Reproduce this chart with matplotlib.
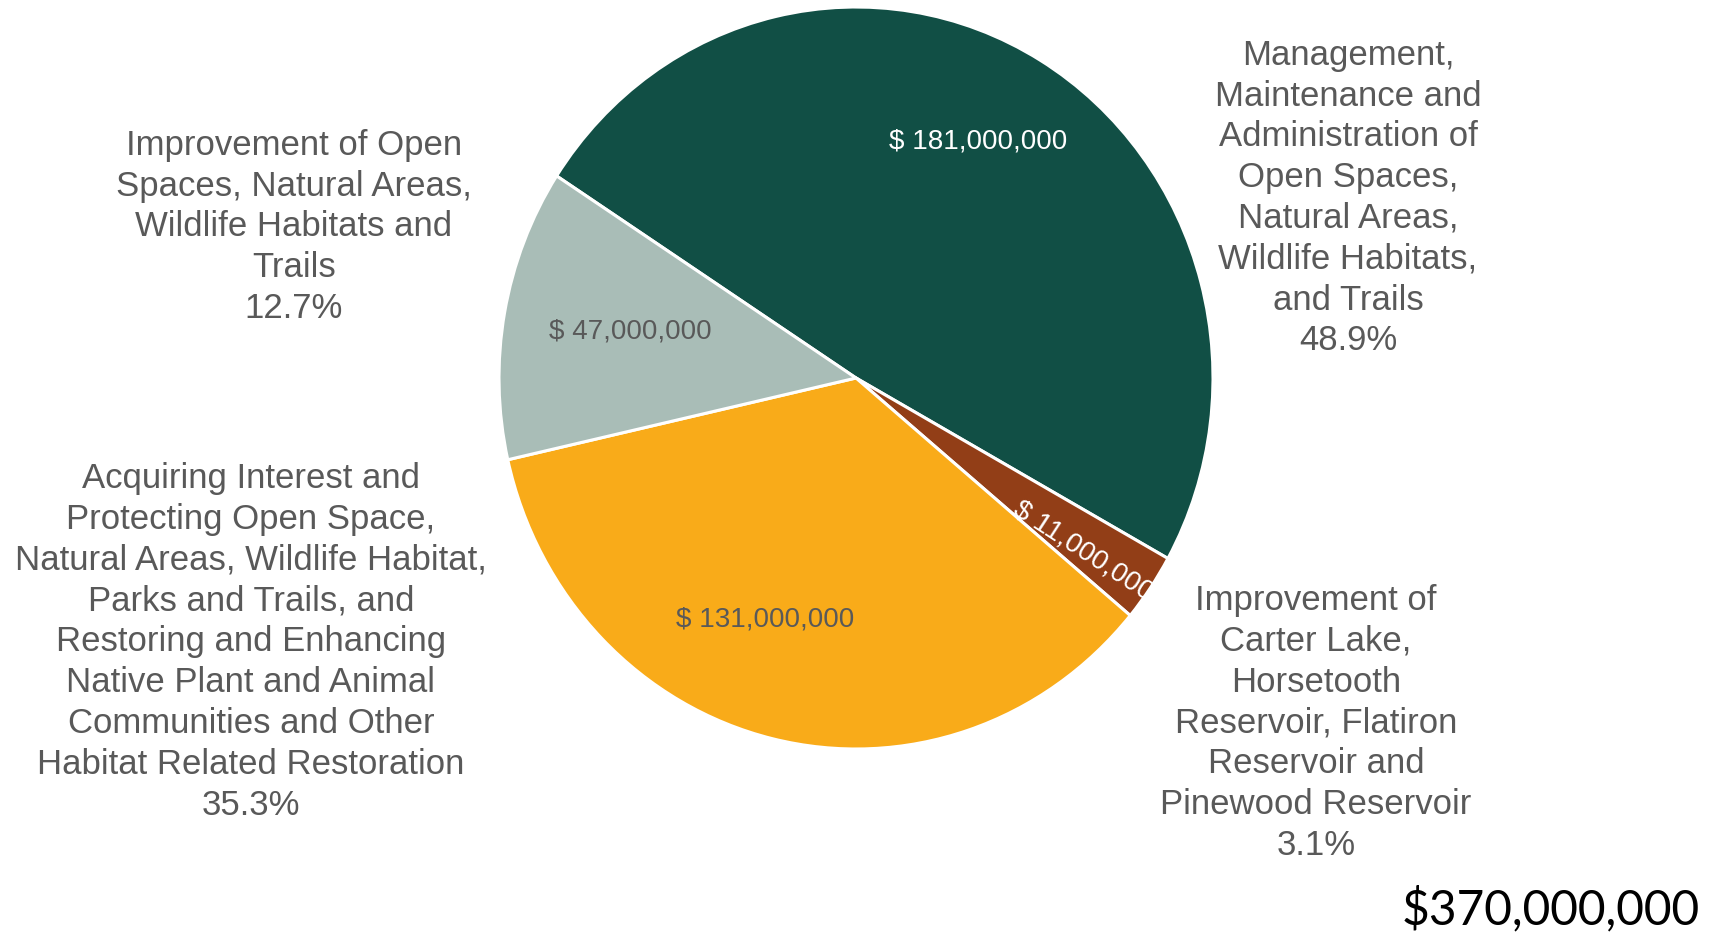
import matplotlib.pyplot as plt

# budget split by use
categories = [
    "Management,\nMaintenance and\nAdministration of\nOpen Spaces,\nNatural Areas,\nWildlife Habitats,\nand Trails",
    "Improvement of\nCarter Lake,\nHorsetooth\nReservoir, Flatiron\nReservoir and\nPinewood Reservoir",
    "Acquiring Interest and\nProtecting Open Space,\nNatural Areas, Wildlife Habitat,\nParks and Trails, and\nRestoring and Enhancing\nNative Plant and Animal\nCommunities and Other\nHabitat Related Restoration",
    "Improvement of Open\nSpaces, Natural Areas,\nWildlife Habitats and\nTrails",
]
amounts = [181_000_000, 11_000_000, 131_000_000, 47_000_000]
percents = ["48.9%", "3.1%", "35.3%", "12.7%"]
total_label = "$370,000,000"

colors = ["#114f45", "#923e17", "#f9ab19", "#a9bdb7"]
value_colors = ["white", "white", "#595959", "#595959"]

plt.rcParams['font.family'] = ['Liberation Sans', 'DejaVu Sans']

W, H = 1709, 941
fig = plt.figure(figsize=(W / 100, H / 100), dpi=100)

# pie sits in a slightly taller-than-wide box
px0, px1, py0, py1 = 499, 1213, 7, 749
ax = fig.add_axes([px0 / W, 1 - py1 / H, (px1 - px0) / W, (py1 - py0) / H])
wedges, _ = ax.pie(amounts, colors=colors, startangle=147, counterclock=False,
                   wedgeprops=dict(edgecolor='white', linewidth=2.2))
ax.set_aspect('auto')
ax.set_xlim(-1, 1)
ax.set_ylim(-1, 1)
ax.axis('off')

# value labels inside the slices (pixel positions)
value_pos = [(978, 141, 0), (1083, 551, -33), (765, 619, 0), (630, 331, 0)]
for amt, (x, y, rot), c in zip(amounts, value_pos, value_colors):
    fig.text(x / W, 1 - y / H, f"$ {amt:,}", color=c, fontsize=20,
             ha='center', va='center', rotation=rot, rotation_mode='anchor')

# category labels outside the pie
label_pos = [(1348, 198), (1316, 723), (251, 642), (294, 227)]
for name, pct, (x, y) in zip(categories, percents, label_pos):
    fig.text(x / W, 1 - y / H, name + "\n" + pct, color='#595959', fontsize=25,
             ha='center', va='center', multialignment='center', linespacing=1.3)

fig.text(1700 / W, 1 - 924 / H, total_label, color='black', fontsize=34.5,
         family=['Lato', 'DejaVu Sans'], ha='right', va='baseline')

fig.savefig('out.png', dpi=100)
